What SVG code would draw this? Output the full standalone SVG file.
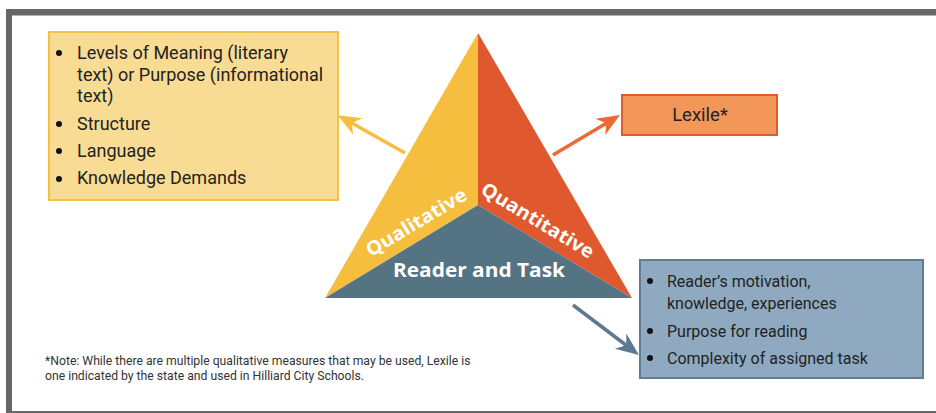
<svg xmlns="http://www.w3.org/2000/svg" width="936" height="413" viewBox="0 0 936 413">
<style>
.t{font-family:Roboto,"Liberation Sans",sans-serif;font-size:16px;fill:#222}
.y{font-size:18px}
.n{font-family:Roboto,"Liberation Sans",sans-serif;font-size:12.2px;fill:#333}
.w{font-family:"Open Sans","Liberation Sans",sans-serif;font-weight:bold;font-size:19px;fill:#fff}
.b{fill:#111}
</style>
<defs>
<marker id="ay" viewBox="-10 -10 26 20" markerWidth="26" markerHeight="20" refX="0" refY="0" orient="auto" markerUnits="userSpaceOnUse"><path d="M14,0 L-9,-9.5 L-2,0 L-9,9.5 Z" fill="#F6BE3F"/></marker>
<marker id="ao" viewBox="-10 -10 26 20" markerWidth="26" markerHeight="20" refX="0" refY="0" orient="auto" markerUnits="userSpaceOnUse"><path d="M14,0 L-9,-9.5 L-2,0 L-9,9.5 Z" fill="#EE6A35"/></marker>
<marker id="ab" viewBox="-10 -10 26 20" markerWidth="26" markerHeight="20" refX="0" refY="0" orient="auto" markerUnits="userSpaceOnUse"><path d="M14,0 L-9,-9.5 L-2,0 L-9,9.5 Z" fill="#5C7A8F"/></marker>
</defs>
<rect width="936" height="413" fill="#fff"/>
<g id="frame" fill="#686868">
<rect x="6" y="9" width="930" height="6.5"/>
<rect x="6" y="9" width="6" height="404"/>
<rect x="6" y="411" width="930" height="2"/>
</g>
<g id="triangle">
<polygon points="478,33 478,205 325,298" fill="#F6BE3F"/>
<polygon points="478,33 632,298 478,205" fill="#E0582E"/>
<polygon points="325,298 478,205 632,298" fill="#547383"/>
<text class="w" transform="translate(416,222) rotate(-31)" text-anchor="middle" y="7" textLength="114" lengthAdjust="spacingAndGlyphs">Qualitative</text>
<text class="w" transform="translate(538,220) rotate(31)" text-anchor="middle" y="7" textLength="128" lengthAdjust="spacingAndGlyphs">Quantitative</text>
<text class="w" x="479" y="277" text-anchor="middle" textLength="172" lengthAdjust="spacingAndGlyphs">Reader and Task</text>
</g>
<g id="qualitative-box">
<rect x="49" y="32" width="289" height="168" fill="#F9DC94" stroke="#F6C040" stroke-width="2"/>
<circle class="b" cx="59" cy="53" r="3"/>
<circle class="b" cx="59" cy="124" r="3"/>
<circle class="b" cx="59" cy="151" r="3"/>
<circle class="b" cx="59" cy="179" r="3"/>
<text class="t y" x="77" y="59">Levels of Meaning (literary</text>
<text class="t y" x="77" y="81">text) or Purpose (informational</text>
<text class="t y" x="77" y="102">text)</text>
<text class="t y" x="77" y="130">Structure</text>
<text class="t y" x="77" y="157">Language</text>
<text class="t y" x="77" y="184">Knowledge Demands</text>
</g>
<g id="lexile-box">
<rect x="622" y="95" width="155" height="40" fill="#F3965A" stroke="#E35B2A" stroke-width="2"/>
<text class="t" x="700" y="121" text-anchor="middle" style="font-size:18.5px">Lexile*</text>
</g>
<g id="reader-box">
<rect x="640" y="260" width="283" height="118" fill="#8FAAC0" stroke="#5F7D93" stroke-width="2"/>
<circle class="b" cx="650" cy="281" r="3"/>
<circle class="b" cx="650" cy="331" r="3"/>
<circle class="b" cx="650" cy="358" r="3"/>
<text class="t" x="667" y="287">Reader’s motivation,</text>
<text class="t" x="667" y="309">knowledge, experiences</text>
<text class="t" x="667" y="337">Purpose for reading</text>
<text class="t" x="667" y="364">Complexity of assigned task</text>
</g>
<g id="connectors" fill="none" stroke-width="3.5">
<line x1="405" y1="153" x2="350" y2="122" stroke="#F6BE3F" marker-end="url(#ay)"/>
<line x1="553" y1="155" x2="608" y2="122.2" stroke="#EE6A35" marker-end="url(#ao)"/>
<line x1="573" y1="305" x2="627.8" y2="346.5" stroke="#5C7A8F" marker-end="url(#ab)"/>
</g>
<g id="note">
<text class="n" x="45" y="365">*Note: While there are multiple qualitative measures that may be used, Lexile is</text>
<text class="n" x="45" y="380">one indicated by the state and used in Hilliard City Schools.</text>
</g>
</svg>
